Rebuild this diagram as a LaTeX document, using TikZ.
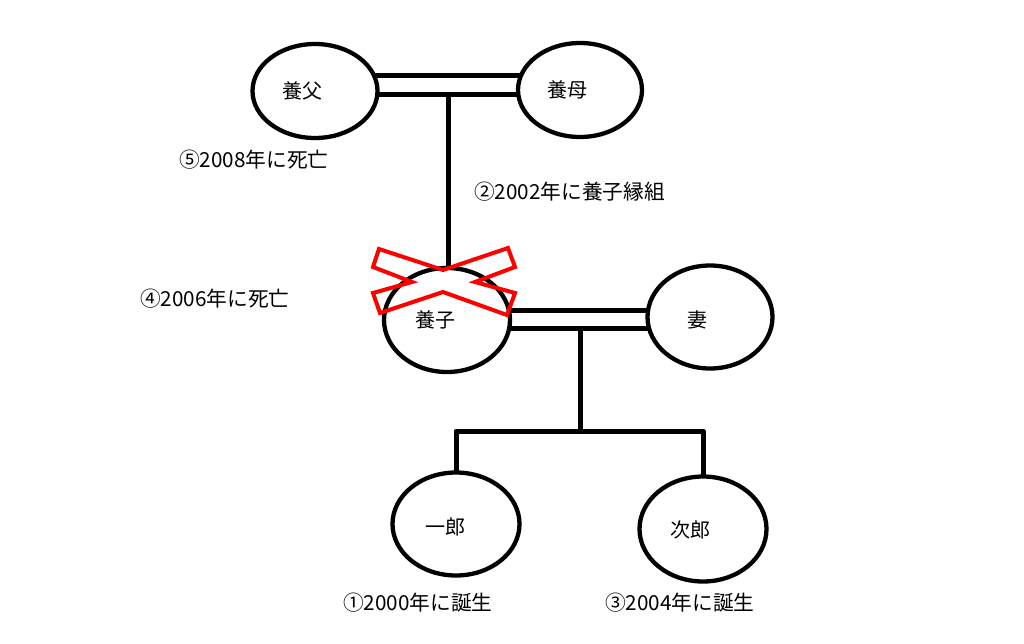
\documentclass[tikz,border=0pt]{standalone}
\usepackage{fontspec}
\setmainfont{Noto Sans CJK JP}
\usetikzlibrary{shapes.geometric,backgrounds}
\begin{document}
\begin{tikzpicture}[x=1pt,y=-1pt,
  person/.style={ellipse,draw,line width=4.3pt,fill=white,inner sep=0pt},
  pname/.style={font=\fontsize{20}{24}\selectfont,inner sep=0pt},
  line/.style={line width=5pt},
  note/.style={anchor=west,inner sep=0pt,font=\fontsize{20.7}{24}\selectfont},
  cross/.style={draw=red,line width=4pt,line join=miter}]
\useasboundingbox (0,0) rectangle (1024,643);

\node[person,minimum width=125,minimum height=94,
  label={[pname,xshift=-13]center:養父}] (fa) at (315,91) {};
\node[person,minimum width=124,minimum height=94,
  label={[pname,xshift=-13]center:養母}] (mo) at (580,90) {};
\node[person,minimum width=126,minimum height=104,
  label={[pname,xshift=-12]center:養子}] (yo) at (447,320) {};
\node[person,minimum width=125,minimum height=103,
  label={[pname,xshift=-13,yshift=-3]center:妻}] (tsuma) at (710,317) {};
\node[person,minimum width=127,minimum height=103,
  label={[pname,xshift=-11,yshift=-3]center:一郎}] (ichi) at (456,524) {};
\node[person,minimum width=127,minimum height=105,
  label={[pname,xshift=-13,yshift=-1]center:次郎}] (ji) at (703,529) {};

\coordinate (u1) at (0,75);
\coordinate (u2) at (0,94);
\coordinate (ja) at (448,94);
\coordinate (l1) at (0,310);
\coordinate (l2) at (0,328);
\coordinate (jb) at (580,328);
\coordinate (jc) at (580,431);
\coordinate (hl) at (456,431);

\begin{scope}[on background layer]
  \fill[white] (0,0) rectangle (1024,643);
  \draw[line] (fa.center |- u1) -- (mo.center |- u1);
  \draw[line] (fa.center |- u2) -- (mo.center |- u2);
  \draw[line] (ja) -- (ja |- yo.center);
  \draw[line] (yo.center |- l1) -- (tsuma.center |- l1);
  \draw[line] (yo.center |- l2) -- (tsuma.center |- l2);
  \draw[line] (jb) -- (jc);
  \draw[line,line join=round] (ichi.center) -- (ichi.center |- hl) -- (ji.center |- hl) -- (ji.center);
\end{scope}

\draw[cross] (379,249) -- (443,270) -- (508,248) -- (515,267) -- (475,282)
  -- (515,293) -- (507,315) -- (443,292) -- (380,313) -- (373,293)
  -- (412,282) -- (373,267) -- cycle;

\node[note] (n5) at (179,160) {⑤2008年に死亡};
\node[note] (n2) at (474,192) {②2002年に養子縁組};
\node[note] (n4) at (140,299) {④2006年に死亡};
\node[note] (n1) at (343,603) {①2000年に誕生};
\node[note] (n3) at (605,603) {③2004年に誕生};
\end{tikzpicture}
\end{document}
